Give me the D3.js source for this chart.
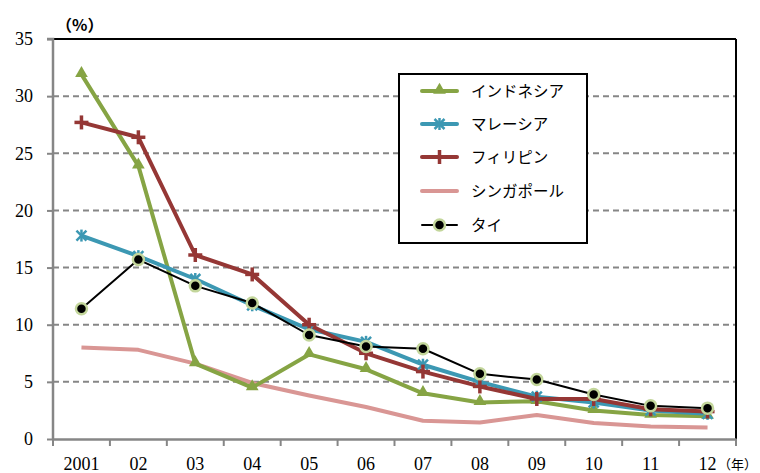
<!DOCTYPE html>
<html><head><meta charset="utf-8">
<script src="https://cdn.jsdelivr.net/npm/d3@7"></script>
<style>body{margin:0;background:#fff}svg{display:block}</style>
</head><body><svg id="c" width="760" height="473"></svg>
<script>
const categories = ["2001","02","03","04","05","06","07","08","09","10","11","12"];
const yTicks = [0,5,10,15,20,25,30,35];
const indonesia = [31.9,23.9,6.6,4.5,7.4,6.1,4.0,3.2,3.3,2.5,2.1,2.0];
const malaysia = [17.8,16.0,14.0,11.7,9.6,8.5,6.5,5.0,3.7,3.2,2.5,2.2];
const philippines = [27.7,26.4,16.1,14.4,10.0,7.5,5.9,4.6,3.5,3.5,2.6,2.4];
const singapore = [8.0,7.8,6.6,4.9,3.8,2.8,1.6,1.45,2.1,1.4,1.1,1.0];
const thai = [11.4,15.7,13.4,11.9,9.1,8.1,7.9,5.7,5.2,3.9,2.9,2.7];
const seriesNames = ["インドネシア","マレーシア","フィリピン","シンガポール","タイ"];

const svg = d3.select("#c");
const L=53, R=736, T=39, B=439;
const x = d3.scaleBand().domain(categories).range([L,R]);
const y = d3.scaleLinear().domain([0,35]).range([B,T]);
const jp = "'Noto Sans CJK JP',sans-serif";
const serif = "'Liberation Serif','DejaVu Serif',serif";

svg.append("g").selectAll("line").data(yTicks.filter(d=>d>0&&d<35)).join("line")
  .attr("x1",L).attr("x2",R).attr("y1",d=>y(d)).attr("y2",d=>y(d))
  .attr("stroke","#868686").attr("stroke-width",2).attr("stroke-dasharray","6,4");
svg.append("line").attr("x1",L).attr("x2",R).attr("y1",y(35)).attr("y2",y(35)).attr("stroke","#000").attr("stroke-width",2);
svg.append("line").attr("x1",R).attr("x2",R).attr("y1",y(35)).attr("y2",B).attr("stroke","#000").attr("stroke-width",2);

const ya = svg.append("g").attr("transform",`translate(${L},0)`)
  .call(d3.axisLeft(y).tickValues(yTicks).tickSize(6).tickPadding(14));
ya.attr("font-family",serif).attr("font-size",18);
ya.select(".domain").attr("stroke","#868686").attr("stroke-width",2.5).attr("d",`M-6,${y(35)}H0V${B}`);
ya.selectAll(".tick line").attr("stroke","#868686").attr("stroke-width",2);
ya.selectAll("text").style("font-family",serif).style("font-size","18px").attr("fill","#000");

const xa = svg.append("g").attr("transform",`translate(0,${B})`)
  .call(d3.axisBottom(x).tickSize(0).tickPadding(18));
xa.attr("font-family",serif).attr("font-size",18);
xa.select(".domain").attr("stroke","#868686").attr("stroke-width",2.5);
xa.selectAll("text").style("font-family",serif).style("font-size","18px").attr("fill","#000");
svg.append("g").selectAll("line").data(d3.range(categories.length+1)).join("line")
  .attr("x1",i=>L+i*x.step()).attr("x2",i=>L+i*x.step()).attr("y1",B).attr("y2",B+7)
  .attr("stroke","#868686").attr("stroke-width",2);

svg.append("text").attr("x",56).attr("y",31).attr("font-family",jp).attr("font-size",16).attr("font-weight","bold").text("（%）");
svg.append("text").attr("x",718).attr("y",469).attr("font-family",jp).attr("font-size",13).text("（年）");

const cx = d=>x(d)+x.bandwidth()/2;
const line = d3.line().x(d=>cx(d[0])).y(d=>y(d[1]));
const zip = arr => categories.map((c,i)=>[c,arr[i]]);
const cols = {ind:"#86A444", mal:"#3C98B3", phi:"#953735", sin:"#D99694", thai:"#000"};

function drawSeries(arr,color,w){
  svg.append("path").datum(zip(arr)).attr("d",line).attr("fill","none")
    .attr("stroke",color).attr("stroke-width",w).attr("stroke-linejoin","round");
}
drawSeries(singapore,cols.sin,4);
drawSeries(indonesia,cols.ind,4);
drawSeries(malaysia,cols.mal,4);
drawSeries(philippines,cols.phi,4);
drawSeries(thai,cols.thai,2);

const tri = d3.symbol().type(d3.symbolTriangle).size(70);
function triMarks(g,pts){
  g.selectAll("path.t").data(pts).join("path").attr("class","t")
    .attr("transform",d=>`translate(${d[0]},${d[1]})`).attr("d",tri).attr("fill",cols.ind);
}
function astMarks(g,pts){
  pts.forEach(p=>{
    const s=g.append("g").attr("transform",`translate(${p[0]},${p[1]})`);
    [[-5,-5,5,5],[-5,5,5,-5],[0,-6,0,6]].forEach(l=>s.append("line").attr("x1",l[0]).attr("y1",l[1]).attr("x2",l[2]).attr("y2",l[3]).attr("stroke",cols.mal).attr("stroke-width",2.5));
  });
}
function plusMarks(g,pts){
  pts.forEach(p=>{
    const s=g.append("g").attr("transform",`translate(${p[0]},${p[1]})`);
    [[-7,0,7,0],[0,-7,0,7]].forEach(l=>s.append("line").attr("x1",l[0]).attr("y1",l[1]).attr("x2",l[2]).attr("y2",l[3]).attr("stroke",cols.phi).attr("stroke-width",3.5));
  });
}
function circMarks(g,pts){
  g.selectAll("circle").data(pts).join("circle").attr("cx",d=>d[0]).attr("cy",d=>d[1]).attr("r",5.5)
    .attr("fill","#000").attr("stroke","#C3D69B").attr("stroke-width",2.5);
}
const pts = arr => zip(arr).map(d=>[cx(d[0]),y(d[1])]);
triMarks(svg.append("g"),pts(indonesia).map(p=>[p[0],p[1]-1]));
astMarks(svg.append("g"),pts(malaysia));
plusMarks(svg.append("g"),pts(philippines));
circMarks(svg.append("g"),pts(thai));

const lg = svg.append("g");
lg.append("rect").attr("x",399).attr("y",74).attr("width",188).attr("height",169)
  .attr("fill","#fff").attr("stroke","#000").attr("stroke-width",2);
const rowsY = [91,124,157,191,225];
const lx1=422, lx2=457, lmid=(lx1+lx2)/2;
const legCols=[cols.ind,cols.mal,cols.phi,cols.sin,cols.thai];
seriesNames.forEach((n,i)=>{
  lg.append("line").attr("x1",lx1).attr("x2",lx2).attr("y1",rowsY[i]).attr("y2",rowsY[i])
    .attr("stroke",legCols[i]).attr("stroke-width",i===4?2:4).attr("stroke-linecap","round");
  lg.append("text").attr("x",471).attr("y",rowsY[i]).attr("dy","0.36em")
    .attr("font-family",jp).attr("font-size",15.5).attr("fill","#000").text(n);
});
triMarks(lg.append("g"),[[lmid,rowsY[0]-1]]);
astMarks(lg.append("g"),[[lmid,rowsY[1]]]);
plusMarks(lg.append("g"),[[lmid,rowsY[2]]]);
circMarks(lg.append("g"),[[lmid,rowsY[4]]]);
</script></body></html>
